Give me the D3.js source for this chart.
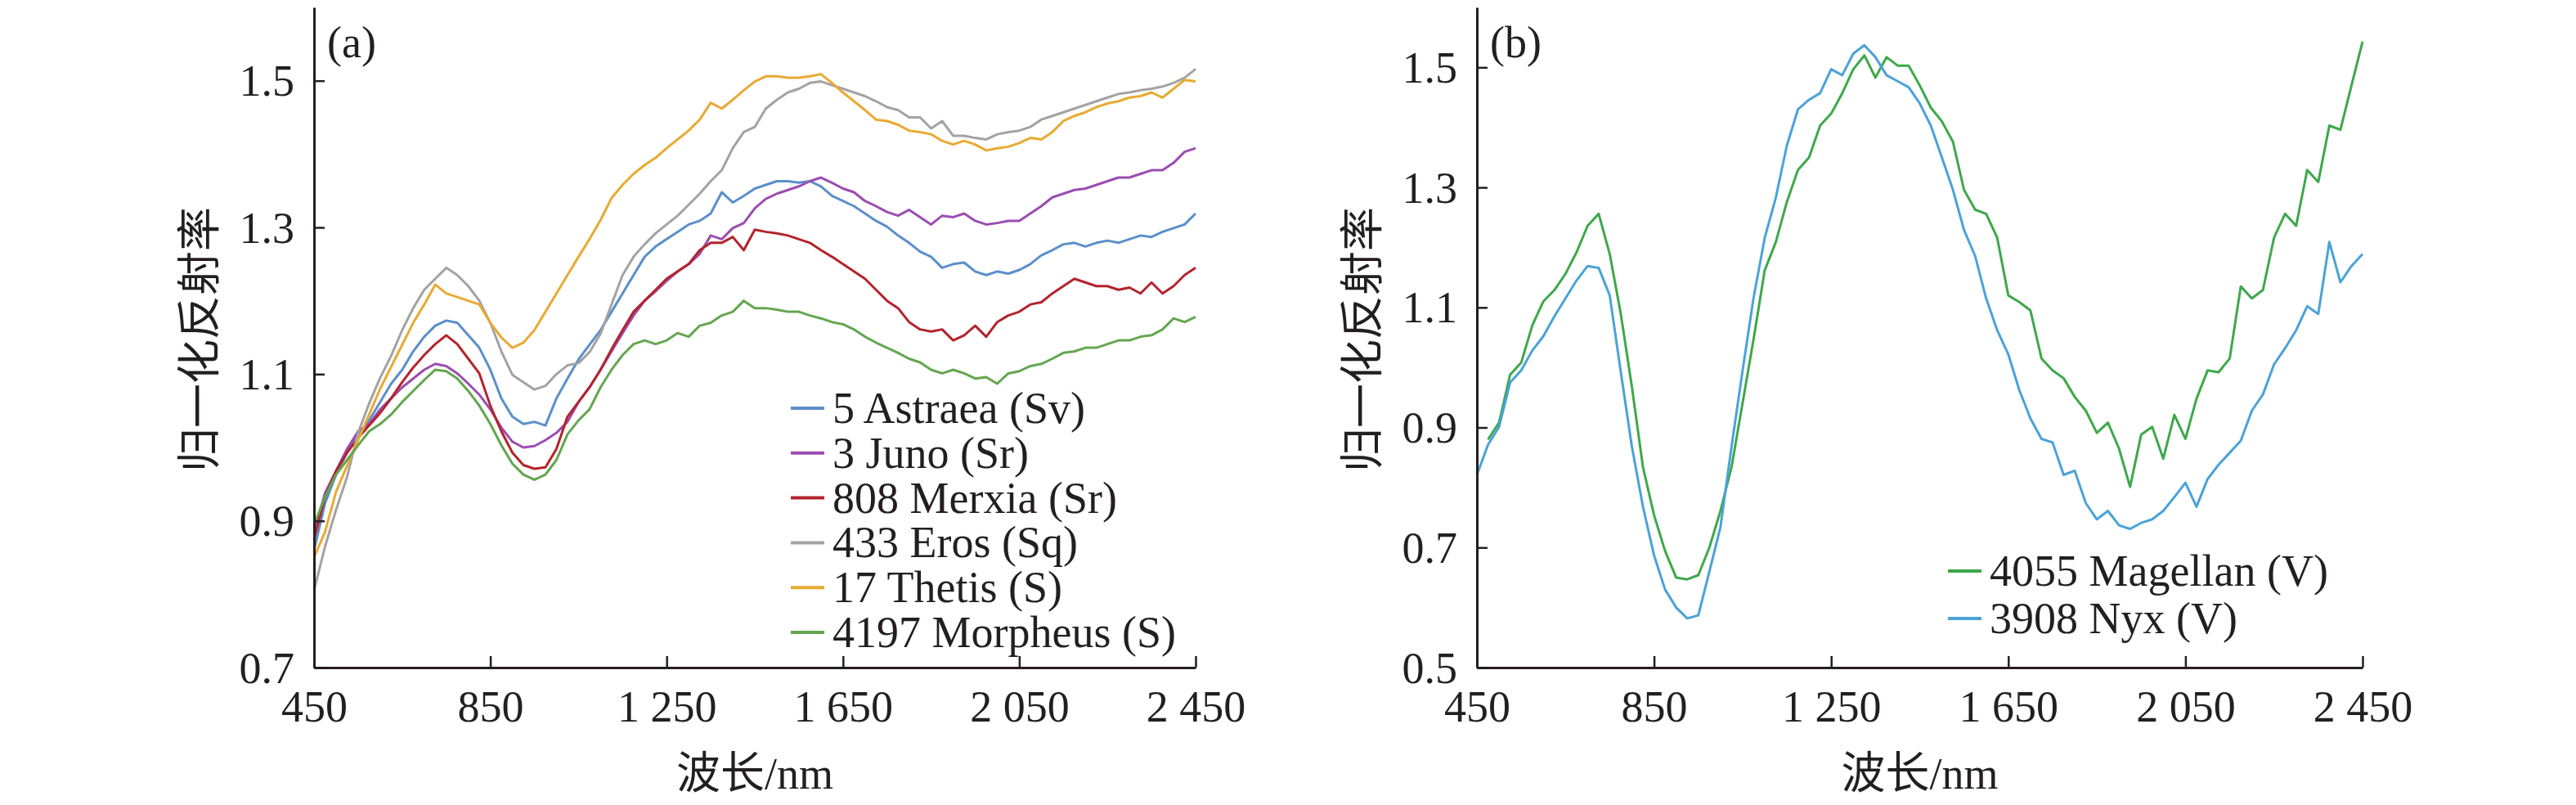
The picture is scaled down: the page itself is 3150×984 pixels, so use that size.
<!DOCTYPE html>
<html>
<head>
<meta charset="utf-8">
<script src="https://cdn.jsdelivr.net/npm/d3@7"></script>
<style>
body { margin: 0; background: #fff; }
text { font-family: "Liberation Serif", "Times New Roman", "DejaVu Serif", "Noto Sans CJK SC", serif; font-size: 54px; fill: #231f20; }
</style>
</head>
<body>
<svg width="3150" height="984"></svg>
<script>
// wavelength grid (nm), shared by every spectrum
var wavelength = [450, 475, 500, 525, 550, 575, 600, 625, 650, 675,
  700, 725, 750, 775, 800, 825, 850, 875, 900, 925,
  950, 975, 1000, 1025, 1050, 1075, 1100, 1125, 1150, 1175,
  1200, 1225, 1250, 1275, 1300, 1325, 1350, 1375, 1400, 1425,
  1450, 1475, 1500, 1525, 1550, 1575, 1600, 1625, 1650, 1675,
  1700, 1725, 1750, 1775, 1800, 1825, 1850, 1875, 1900, 1925,
  1950, 1975, 2000, 2025, 2050, 2075, 2100, 2125, 2150, 2175,
  2200, 2225, 2250, 2275, 2300, 2325, 2350, 2375, 2400, 2425,
  2450];

// panel (a)
var astraea = [0.86, 0.924, 0.963, 0.993, 1.018, 1.037, 1.062, 1.087, 1.106, 1.131,
  1.151, 1.166, 1.173, 1.17, 1.153, 1.136, 1.106, 1.067, 1.042, 1.032,
  1.035, 1.03, 1.067, 1.094, 1.12, 1.14, 1.16, 1.185, 1.21, 1.235,
  1.26, 1.274, 1.284, 1.294, 1.304, 1.309, 1.319, 1.348, 1.334, 1.343,
  1.353, 1.358, 1.363, 1.363, 1.361, 1.363, 1.356, 1.343, 1.336, 1.329,
  1.319, 1.309, 1.301, 1.289, 1.279, 1.267, 1.26, 1.245, 1.25, 1.252,
  1.24, 1.235, 1.24, 1.237, 1.242, 1.25, 1.262, 1.269, 1.277, 1.279,
  1.274, 1.279, 1.282, 1.279, 1.284, 1.289, 1.287, 1.294, 1.299, 1.304,
  1.319];
var juno = [0.884, 0.938, 0.968, 0.998, 1.022, 1.032, 1.052, 1.067, 1.082, 1.094,
  1.106, 1.114, 1.111, 1.101, 1.087, 1.072, 1.052, 1.027, 1.008, 1.0,
  1.002, 1.01, 1.02, 1.035, 1.062, 1.082, 1.106, 1.131, 1.156, 1.18,
  1.2, 1.213, 1.227, 1.24, 1.25, 1.264, 1.289, 1.284, 1.299, 1.306,
  1.326, 1.339, 1.346, 1.351, 1.356, 1.363, 1.368, 1.361, 1.353, 1.348,
  1.336, 1.329, 1.321, 1.316, 1.324, 1.314, 1.304, 1.316, 1.314, 1.319,
  1.309, 1.304, 1.306, 1.309, 1.309, 1.319, 1.329, 1.341, 1.346, 1.351,
  1.353, 1.358, 1.363, 1.368, 1.368, 1.373, 1.378, 1.378, 1.388, 1.403,
  1.408];
var merxia = [0.875, 0.933, 0.968, 0.993, 1.013, 1.03, 1.047, 1.067, 1.089, 1.109,
  1.126, 1.141, 1.153, 1.141, 1.121, 1.101, 1.057, 1.022, 0.993, 0.976,
  0.971, 0.973, 0.998, 1.042, 1.062, 1.082, 1.106, 1.134, 1.16, 1.185,
  1.2, 1.215, 1.23, 1.24, 1.25, 1.269, 1.279, 1.279, 1.287, 1.269,
  1.297, 1.294, 1.292, 1.289, 1.284, 1.279, 1.269, 1.26, 1.25, 1.24,
  1.23, 1.215, 1.2, 1.19, 1.171, 1.161, 1.158, 1.161, 1.146, 1.153,
  1.166, 1.151, 1.171, 1.18, 1.185, 1.195, 1.198, 1.21, 1.22, 1.23,
  1.225, 1.22, 1.22, 1.215, 1.218, 1.21, 1.225, 1.21, 1.22, 1.235,
  1.245];
var eros = [0.805, 0.865, 0.915, 0.96, 1.02, 1.06, 1.095, 1.125, 1.16, 1.19,
  1.215, 1.23, 1.245, 1.235, 1.22, 1.2, 1.17, 1.131, 1.099, 1.089,
  1.079, 1.084, 1.1, 1.112, 1.115, 1.13, 1.155, 1.195, 1.235, 1.26,
  1.277, 1.292, 1.304, 1.316, 1.331, 1.346, 1.363, 1.378, 1.408, 1.43,
  1.437, 1.462, 1.474, 1.484, 1.489, 1.497, 1.499, 1.494, 1.489, 1.484,
  1.479, 1.472, 1.464, 1.46, 1.45, 1.45, 1.435, 1.445, 1.425, 1.425,
  1.422, 1.42, 1.427, 1.43, 1.432, 1.437, 1.447, 1.452, 1.457, 1.462,
  1.467, 1.472, 1.477, 1.482, 1.484, 1.487, 1.489, 1.492, 1.497, 1.504,
  1.516];
var thetis = [0.85, 0.885, 0.94, 0.975, 1.01, 1.045, 1.08, 1.11, 1.14, 1.17,
  1.195, 1.222, 1.21, 1.205, 1.2, 1.195, 1.17, 1.15, 1.136, 1.143,
  1.16, 1.185, 1.21, 1.235, 1.26, 1.284, 1.31, 1.34, 1.358, 1.373,
  1.385, 1.395, 1.408, 1.42, 1.432, 1.447, 1.47, 1.462, 1.474, 1.487,
  1.499, 1.506, 1.506, 1.504, 1.504, 1.506, 1.509, 1.497, 1.484, 1.472,
  1.46, 1.447, 1.445, 1.44, 1.432, 1.43, 1.427, 1.418, 1.413, 1.418,
  1.413, 1.405, 1.408, 1.41, 1.415, 1.422, 1.42, 1.43, 1.445, 1.452,
  1.457, 1.464, 1.469, 1.472, 1.477, 1.479, 1.484, 1.477, 1.489, 1.501,
  1.499];
var morpheus = [0.894, 0.933, 0.963, 0.983, 1.003, 1.022, 1.032, 1.045, 1.062, 1.077,
  1.092, 1.106, 1.104, 1.094, 1.077, 1.057, 1.032, 1.003, 0.978, 0.963,
  0.956, 0.963, 0.983, 1.018, 1.037, 1.052, 1.082, 1.106, 1.126, 1.141,
  1.146, 1.141, 1.146, 1.156, 1.151, 1.166, 1.17, 1.18, 1.185, 1.2,
  1.19, 1.19, 1.188, 1.185, 1.185, 1.18, 1.176, 1.171, 1.168, 1.161,
  1.151, 1.143, 1.136, 1.129, 1.121, 1.116, 1.106, 1.101, 1.106, 1.101,
  1.094, 1.096, 1.087, 1.101, 1.104, 1.111, 1.114, 1.121, 1.129, 1.131,
  1.136, 1.136, 1.141, 1.146, 1.146, 1.151, 1.153, 1.161, 1.176, 1.171,
  1.178];

// panel (b)
var magellan = [null, 0.88, 0.908, 0.988, 1.008, 1.07, 1.11, 1.129, 1.156, 1.192,
  1.236, 1.256, 1.189, 1.089, 0.968, 0.834, 0.754, 0.694, 0.65, 0.647,
  0.654, 0.7, 0.761, 0.834, 0.941, 1.048, 1.162, 1.209, 1.276, 1.329,
  1.35, 1.403, 1.423, 1.457, 1.497, 1.52, 1.483, 1.517, 1.503, 1.503,
  1.47, 1.433, 1.41, 1.376, 1.296, 1.263, 1.256, 1.216, 1.12, 1.109,
  1.095, 1.015, 0.995, 0.982, 0.951, 0.928, 0.891, 0.908, 0.865, 0.801,
  0.888, 0.901, 0.848, 0.921, 0.881, 0.948, 0.995, 0.992, 1.015, 1.135,
  1.115, 1.129, 1.216, 1.256, 1.236, 1.329, 1.309, 1.403, 1.396, 1.47,
  1.543];
var nyx = [0.821, 0.871, 0.901, 0.975, 0.995, 1.028, 1.052, 1.085, 1.115, 1.145,
  1.169, 1.166, 1.12, 0.992, 0.868, 0.768, 0.687, 0.63, 0.6, 0.582,
  0.587, 0.66, 0.734, 0.868, 0.995, 1.117, 1.216, 1.283, 1.37, 1.43,
  1.446, 1.457, 1.497, 1.487, 1.523, 1.537, 1.517, 1.487, 1.477, 1.467,
  1.44, 1.403, 1.35, 1.296, 1.229, 1.186, 1.115, 1.062, 1.022, 0.962,
  0.915, 0.881, 0.875, 0.821, 0.828, 0.774, 0.747, 0.761, 0.737, 0.731,
  0.741, 0.747, 0.761, 0.784, 0.808, 0.768, 0.814, 0.838, 0.858, 0.878,
  0.928, 0.955, 1.005, 1.032, 1.062, 1.102, 1.089, 1.209, 1.142, 1.169,
  1.189];

var namesA = ["5 Astraea (Sv)", "3 Juno (Sr)", "808 Merxia (Sr)", "433 Eros (Sq)", "17 Thetis (S)", "4197 Morpheus (S)"];
var namesB = ["4055 Magellan (V)", "3908 Nyx (V)"];
var xTicks = [450, 850, 1250, 1650, 2050, 2450];
var yTicksA = [0.7, 0.9, 1.1, 1.3, 1.5];
var yTicksB = [0.5, 0.7, 0.9, 1.1, 1.3, 1.5];

var colorsA = ["#5b8fc9", "#9b4db0", "#b3242c", "#a3a3a3", "#e8aa32", "#63a64f"];
var colorsB = ["#3ea84a", "#4aa3d8"];

var svg = d3.select("svg");
var ink = "#231f20";

// 1250 -> "1 250"
var fmtNm = function(d) {
  return d < 1000 ? String(d) : Math.floor(d / 1000) + " " + String(d % 1000).padStart(3, "0");
};

function drawPanel(p) {
  var x = d3.scaleLinear().domain([450, 2450]).range([p.left, p.right]);
  var y = d3.scaleLinear().domain(p.yDomain).range([816, 9]);
  var g = svg.append("g");

  var line = d3.line()
    .defined(function(d) { return d[1] != null; })
    .x(function(d) { return x(d[0]); })
    .y(function(d) { return y(d[1]); });

  p.series.forEach(function(s, i) {
    g.append("path")
      .datum(wavelength.map(function(w, j) { return [w, s[j]]; }))
      .attr("fill", "none")
      .attr("stroke", p.colors[i])
      .attr("stroke-width", 3)
      .attr("stroke-linejoin", "round")
      .attr("d", line);
  });

  // axes, ticks pointing inward
  var gx = g.append("g")
    .attr("transform", "translate(0,816)")
    .style("color", ink)
    .call(d3.axisBottom(x).tickValues(xTicks).tickFormat(fmtNm).tickSizeInner(-14).tickSizeOuter(0));
  gx.selectAll("text").attr("y", 66).attr("dy", null);

  var gy = g.append("g")
    .attr("transform", "translate(" + p.left + ",0)")
    .style("color", ink)
    .call(d3.axisLeft(y).tickValues(p.yTicks).tickFormat(d3.format(".1f")).tickSizeInner(-13).tickSizeOuter(0));
  gy.selectAll("text").attr("x", -24).attr("y", 18).attr("dy", null);

  g.selectAll(".domain").attr("stroke-width", 3);
  g.selectAll(".tick line").attr("stroke-width", 2.5);
  g.selectAll("g").attr("font-family", null).attr("font-size", null);

  // axis titles
  g.append("text")
    .attr("x", (p.left + p.right) / 2)
    .attr("y", 964)
    .attr("text-anchor", "middle")
    .text("波长/nm");
  g.append("text")
    .attr("transform", "translate(" + (p.left - 121) + ",415) rotate(-90)")
    .attr("text-anchor", "middle")
    .text("归一化反射率");

  // panel tag
  g.append("text")
    .attr("x", p.left + 16)
    .attr("y", 70)
    .text(p.tag);

  // legend
  var lg = g.append("g");
  p.names.forEach(function(n, i) {
    var ly = p.legendY + i * p.legendStep;
    lg.append("line")
      .attr("x1", p.legendX).attr("x2", p.legendX + 41)
      .attr("y1", ly).attr("y2", ly)
      .attr("stroke", p.colors[i])
      .attr("stroke-width", 4);
    lg.append("text")
      .attr("x", p.legendX + 51)
      .attr("y", ly + 18)
      .text(n);
  });
}

drawPanel({
  left: 384, right: 1462,
  yDomain: [0.7, 1.6], yTicks: yTicksA,
  series: [astraea, juno, merxia, eros, thetis, morpheus],
  names: namesA, colors: colorsA,
  tag: "(a)",
  legendX: 967, legendY: 499, legendStep: 54.8
});

drawPanel({
  left: 1806, right: 2889,
  yDomain: [0.5, 1.6], yTicks: yTicksB,
  series: [magellan, nyx],
  names: namesB, colors: colorsB,
  tag: "(b)",
  legendX: 2382, legendY: 698, legendStep: 58
});
</script>
</body>
</html>
